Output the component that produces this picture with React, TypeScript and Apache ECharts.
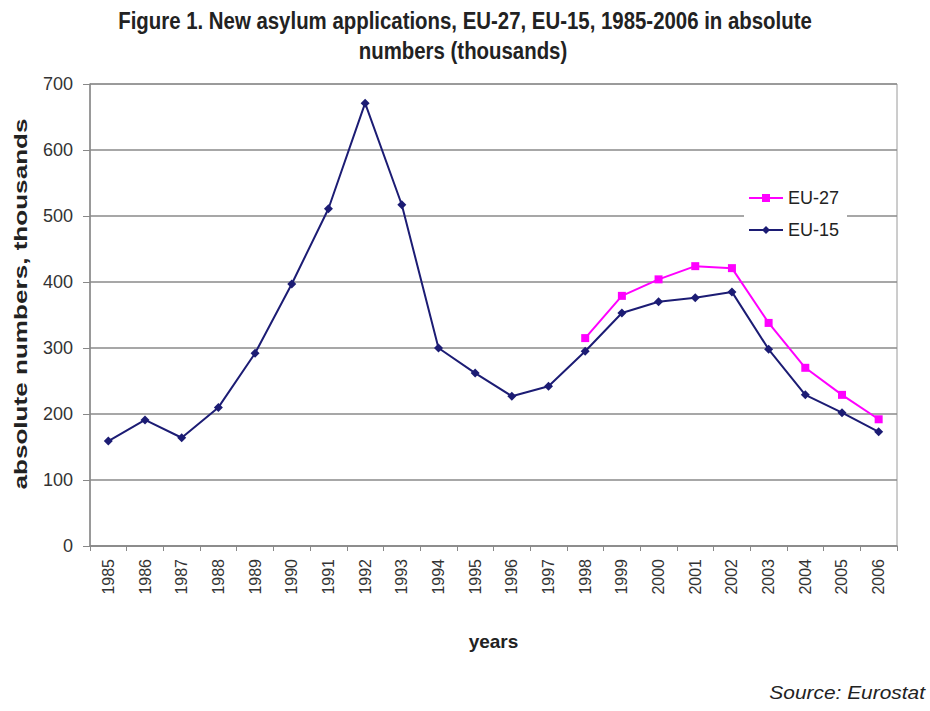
import React, { useEffect, useRef } from "react";
import * as echarts from "echarts";

const years = [
  "1985", "1986", "1987", "1988", "1989", "1990", "1991", "1992", "1993", "1994", "1995",
  "1996", "1997", "1998", "1999", "2000", "2001", "2002", "2003", "2004", "2005", "2006",
];
const eu15 = [159, 191, 164, 210, 292, 397, 511, 671, 517, 300, 262, 227, 242, 295, 353, 370, 376, 385, 298, 229, 202, 173];
const eu27 = [null, null, null, null, null, null, null, null, null, null, null, null, null, 315, 379, 404, 424, 421, 338, 270, 229, 192];
const yTicks = { min: 0, max: 700, interval: 100 };
const titleLines = ["Figure 1. New asylum applications, EU-27, EU-15, 1985-2006 in absolute", "numbers (thousands)"];
const yName = "absolute numbers, thousands";
const sourceText = "Source: Eurostat";

const FONT = "'Liberation Sans', Arial, sans-serif";

export default function App() {
  const ref = useRef<HTMLDivElement>(null);
  useEffect(() => {
    document.body.style.margin = "0";
    const chart = echarts.init(ref.current!, null, { renderer: "svg" });
    chart.setOption({
      animation: false,
      backgroundColor: "#ffffff",
      textStyle: { fontFamily: FONT },
      grid: { left: 90, right: 33, top: 84, bottom: 165, show: true, borderColor: "#9a9a9a", borderWidth: 1 },
      graphic: [
        {
          type: "text",
          x: 465,
          y: 21,
          scaleY: 1.2,
          scaleX: 1.02,
          style: {
            text: titleLines[0],
            fontFamily: FONT,
            fontWeight: "bold",
            fontSize: 20,
            fill: "#222",
            textAlign: "center",
            textVerticalAlign: "middle",
          },
        },
        {
          type: "text",
          x: 463,
          y: 51,
          scaleY: 1.2,
          scaleX: 1.02,
          style: {
            text: titleLines[1],
            fontFamily: FONT,
            fontWeight: "bold",
            fontSize: 20,
            fill: "#222",
            textAlign: "center",
            textVerticalAlign: "middle",
          },
        },
        {
          type: "text",
          x: 21,
          y: 304,
          rotation: Math.PI / 2,
          scaleX: 1.45,
          style: {
            text: yName,
            fontFamily: FONT,
            fontWeight: "bold",
            fontSize: 18,
            fill: "#222",
            textAlign: "center",
            textVerticalAlign: "middle",
          },
        },
        {
          type: "text",
          x: 925,
          y: 692,
          scaleX: 1.1,
          style: {
            text: sourceText,
            fontFamily: FONT,
            fontStyle: "italic",
            fontSize: 19,
            fill: "#222",
            textAlign: "right",
            textVerticalAlign: "middle",
          },
        },
      ],
      legend: {
        orient: "vertical",
        left: 744,
        top: 185,
        itemGap: 14,
        itemWidth: 34,
        itemHeight: 10,
        backgroundColor: "#ffffff",
        padding: [4, 8, 4, 4],
        textStyle: { fontSize: 18, color: "#222", fontFamily: FONT },
        data: ["EU-27", "EU-15"],
      },
      xAxis: {
        type: "category",
        data: years,
        boundaryGap: true,
        name: "years",
        nameLocation: "middle",
        nameGap: 86,
        nameTextStyle: { fontSize: 19, fontWeight: "bold", color: "#222" },
        axisLine: { lineStyle: { color: "#888", width: 1.5 } },
        axisTick: { show: true, length: 5, alignWithLabel: false, lineStyle: { color: "#888" } },
        axisLabel: { rotate: 90, fontSize: 16, color: "#333", margin: 13 },
        splitLine: { show: false },
      },
      yAxis: {
        type: "value",
        min: yTicks.min,
        max: yTicks.max,
        interval: yTicks.interval,
        axisLine: { show: true, lineStyle: { color: "#888", width: 1.5 } },
        axisTick: { show: true, length: 7, lineStyle: { color: "#888" } },
        axisLabel: { fontSize: 18, color: "#333", margin: 17 },
        splitLine: { show: true, lineStyle: { color: "#8a8a8a", width: 1.6 } },
      },
      series: [
        {
          name: "EU-27",
          type: "line",
          data: eu27,
          symbol: "rect",
          symbolSize: 8,
          color: "#ff00ff",
          lineStyle: { width: 2, color: "#ff00ff" },
          itemStyle: { color: "#ff00ff" },
          z: 3,
        },
        {
          name: "EU-15",
          type: "line",
          data: eu15,
          symbol: "diamond",
          symbolSize: 9,
          color: "#1c1c74",
          lineStyle: { width: 2, color: "#1c1c74" },
          itemStyle: { color: "#1c1c74" },
          z: 4,
        },
      ],
    });
    return () => chart.dispose();
  }, []);
  return <div ref={ref} style={{ width: 930, height: 711 }} />;
}
